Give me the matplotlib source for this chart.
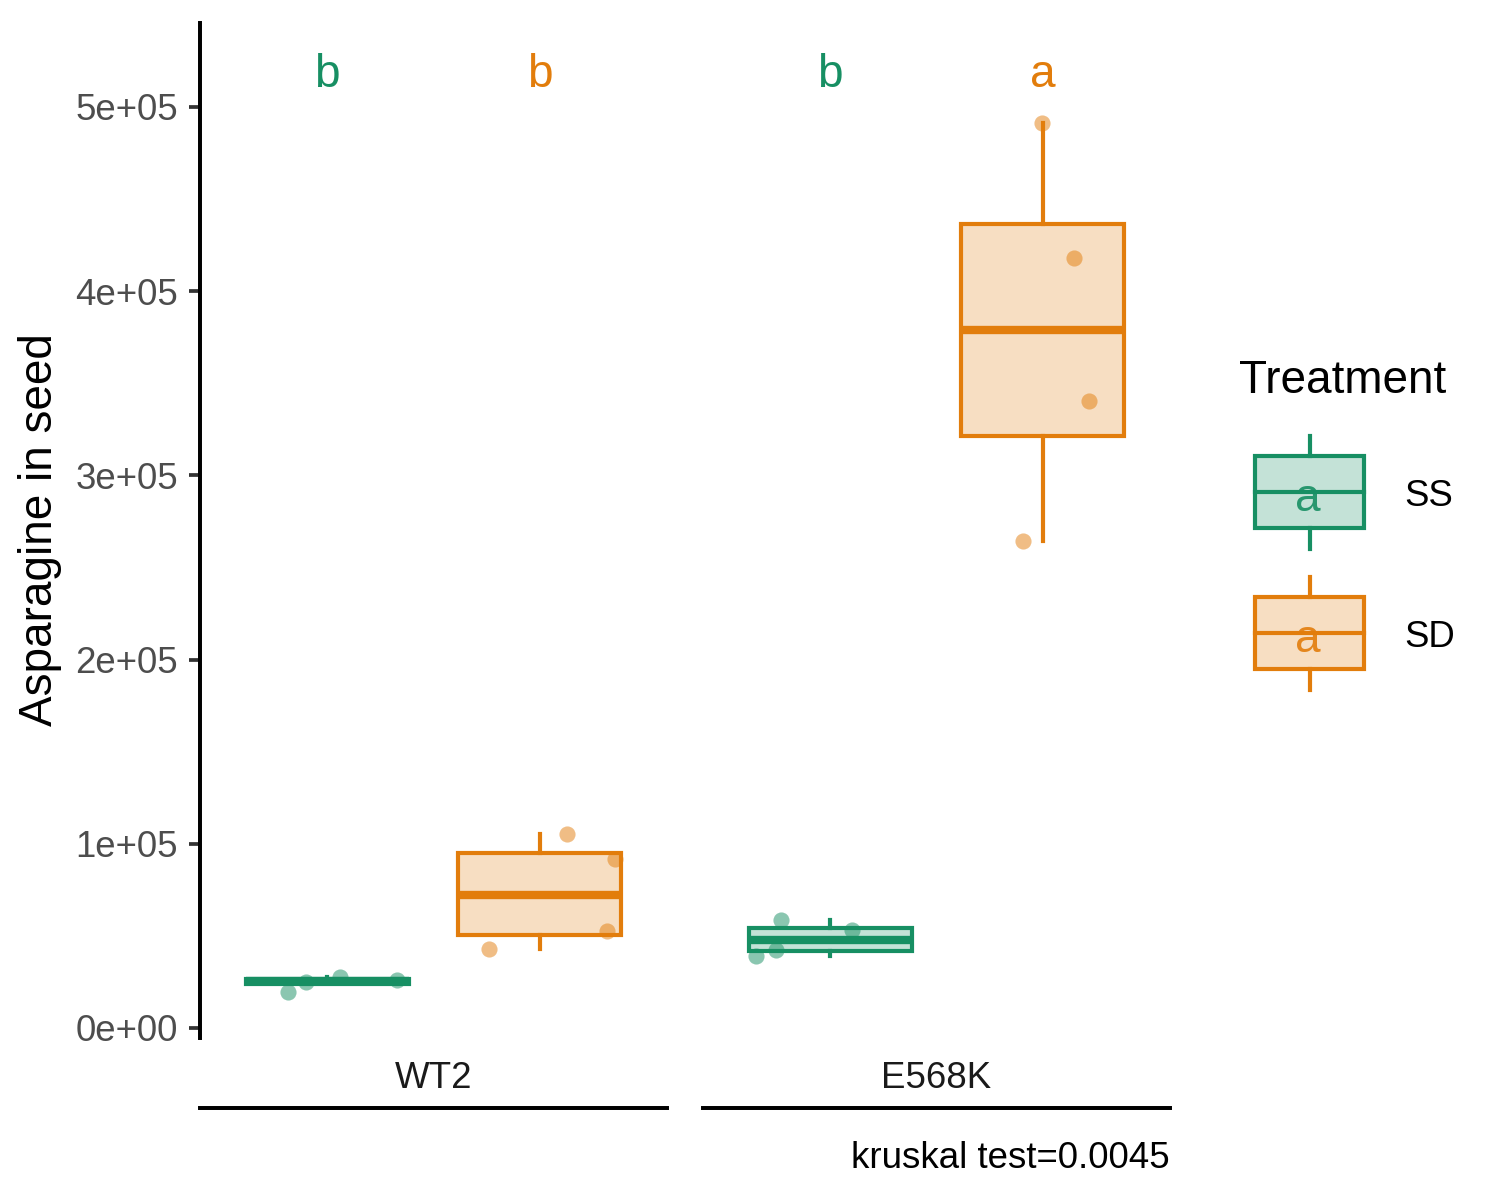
import matplotlib
matplotlib.use('Agg')
import matplotlib.pyplot as plt
import matplotlib.patches as mpatches
from matplotlib.colors import to_rgba

plt.rcParams['font.family'] = ['Liberation Sans', 'DejaVu Sans']

# data
genotypes = ['WT2', 'E568K']
treatments = ['SS', 'SD']
colors = {'SS': '#178F63', 'SD': '#E27D0C'}

asn_wt2_ss = [19380, 25130, 27850, 26060]
asn_wt2_sd = [105160, 91590, 52660, 43050]
asn_e568k_ss = [58470, 39090, 42350, 53200]
asn_e568k_sd = [491310, 418020, 340390, 264390]

# horizontal jitter of the points (as drawn)
jit_wt2_ss = [-0.102, -0.055, 0.032, 0.179]
jit_wt2_sd = [0.069, 0.193, 0.173, -0.130]
jit_e568k_ss = [-0.127, -0.191, -0.140, 0.057]
jit_e568k_sd = [-0.003, 0.080, 0.118, -0.051]

letters_wt2 = ['b', 'b']
letters_e568k = ['b', 'a']
letter_y = 510800

yticks = [0, 1e5, 2e5, 3e5, 4e5, 5e5]
kruskal_p = '0.0045'

values = {'WT2': [asn_wt2_ss, asn_wt2_sd], 'E568K': [asn_e568k_ss, asn_e568k_sd]}
jitters = {'WT2': [jit_wt2_ss, jit_wt2_sd], 'E568K': [jit_e568k_ss, jit_e568k_sd]}
letters = {'WT2': letters_wt2, 'E568K': letters_e568k}

W, H = 1500, 1200
fig = plt.figure(figsize=(5, 4), dpi=300)

px = 72 / 300  # points per pixel
positions = [-0.273, 0.273]
lw = 1.0

panel_left = [200, 703]
axes = []
for i, g in enumerate(genotypes):
    ax = fig.add_axes([panel_left[i] / W, 1 - 1038 / H, 467 / W, 1015 / H])
    axes.append(ax)
    for j, t in enumerate(treatments):
        c = colors[t]
        ax.boxplot(values[g][j], positions=[positions[j]], widths=0.42,
                   patch_artist=True, showcaps=False, showfliers=False,
                   boxprops=dict(facecolor=to_rgba(c, 0.25), edgecolor=c, linewidth=lw),
                   whiskerprops=dict(color=c, linewidth=lw),
                   medianprops=dict(color=c, linewidth=2 * lw, solid_capstyle='butt'),
                   zorder=2)
        xs = [positions[j] + d for d in jitters[g][j]]
        ax.scatter(xs, values[g][j], s=15, color=c, alpha=0.5, linewidths=0, zorder=3)
        ax.text(positions[j], letter_y, letters[g][j], color=c, fontsize=11,
                ha='center', va='baseline')
    ax.set_xlim(-0.6, 0.6)
    ax.set_ylim(-5430, 545600)
    ax.patch.set_visible(False)
    for s in ['top', 'right']:
        ax.spines[s].set_visible(False)
    ax.spines['bottom'].set_position(('outward', 70 * px))
    ax.spines['bottom'].set_linewidth(0.95)
    ax.tick_params(axis='x', length=0, labelbottom=False)
    ax.text(0.5, -50 / 1015, g, transform=ax.transAxes, ha='center', va='baseline',
            fontsize=8.8, color='#1A1A1A')
    if i == 0:
        ax.spines['left'].set_linewidth(0.95)
        ax.set_yticks(yticks)
        ax.set_yticklabels(['%.0e' % v for v in yticks])
        ax.tick_params(axis='y', length=11 * px, width=0.9, color='#333333',
                       labelcolor='#4D4D4D', labelsize=8.8, pad=11 * px)
    else:
        ax.spines['left'].set_visible(False)
        ax.set_yticks([])

fig.text(40 / W, 1 - 530 / H, 'Asparagine in seed', rotation=90, fontsize=11,
         ha='center', va='center')
fig.text(1170 / W, 1 - 1168 / H, 'kruskal test=' + kruskal_p, fontsize=8.8,
         ha='right', va='baseline')

# legend drawn in pixel space
lax = fig.add_axes([0, 0, 1, 1])
lax.set_xlim(0, W)
lax.set_ylim(H, 0)
lax.axis('off')
lax.text(1239, 393, 'Treatment', fontsize=11, ha='left', va='baseline')
key_top = [456, 597]
for j, t in enumerate(treatments):
    c = colors[t]
    top = key_top[j]
    bot = top + 72
    mid = (top + bot) / 2
    lax.add_patch(mpatches.Rectangle((1255, top), 109, bot - top, facecolor=to_rgba(c, 0.25),
                                     edgecolor=c, linewidth=lw))
    lax.plot([1255, 1364], [mid, mid], color=c, linewidth=lw)
    lax.plot([1310, 1310], [top - 20, top], color=c, linewidth=lw)
    lax.plot([1310, 1310], [bot, bot + 21], color=c, linewidth=lw)
    lax.text(1308, bot - 17, 'a', color=c, fontsize=11, ha='center', va='baseline', alpha=0.9)
    lax.text(1404, bot - 22, t, fontsize=8.8, ha='left', va='baseline')

fig.savefig('out.png', dpi=300, facecolor='white')
